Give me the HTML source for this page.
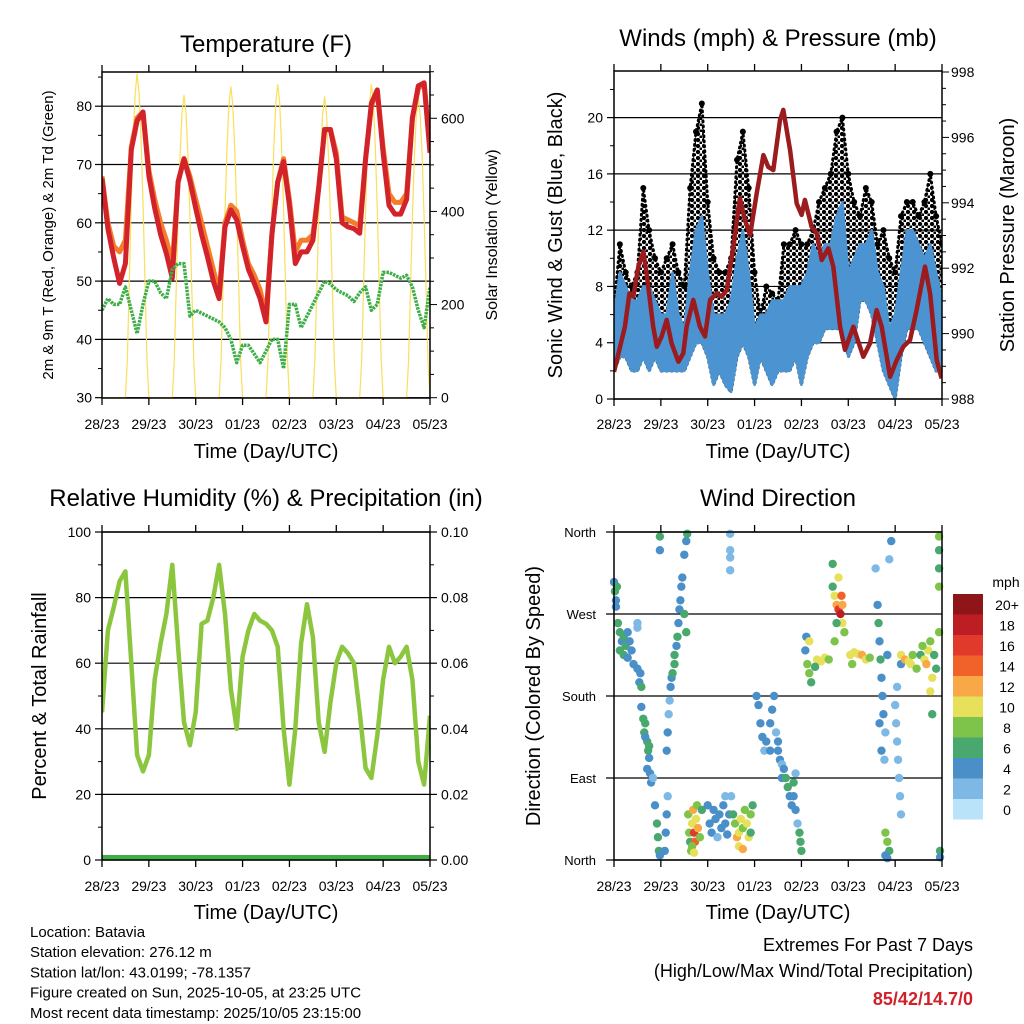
<!DOCTYPE html>
<html><head><meta charset="utf-8">
<style>
html,body{margin:0;padding:0;background:#fff;}
svg{display:block;font-family:"Liberation Sans",sans-serif;}
</style></head>
<body>
<svg id="c" width="1024" height="1024" viewBox="0 0 1024 1024" xmlns="http://www.w3.org/2000/svg">
<defs>
<clipPath id="cp1"><rect x="102" y="72" width="328" height="326"/></clipPath>
<clipPath id="cp2"><rect x="614" y="71" width="328" height="328"/></clipPath>
<clipPath id="cp3"><rect x="102" y="532" width="328" height="328"/></clipPath>
<clipPath id="cp4"><rect x="610" y="528" width="336" height="336"/></clipPath>
<pattern id="dots" width="6" height="6" patternUnits="userSpaceOnUse">
<circle cx="2" cy="2" r="2.2" fill="#000"/><circle cx="5" cy="5" r="1.6" fill="#000"/>
</pattern>
</defs>
<g id="root"></g>
</svg>
<script>
// ---------- data (hours since 28/23 UTC) ----------
const dayLabels = ["28/23","29/23","30/23","01/23","02/23","03/23","04/23","05/23"];
const hours3 = [0,3,6,9,12,15,18,21,24,27,30,33,36,39,42,45,48,51,54,57,60,63,66,69,72,75,78,81,84,87,90,93,96,99,102,105,108,111,114,117,120,123,126,129,132,135,138,141,144,147,150,153,156,159,162,165,168];
const tempRed = [67.6,59,54,49.6,53,72.5,77.5,79,68,62.5,58,54.7,50.5,67,71,67.2,62.5,58,54.2,50,47,59.3,62.2,60.5,56,52,49.6,47,43,58,67,70.5,63,53,55,55,57,66,76,76,71,60,59.3,59,58.2,71,80.5,82.8,72,63,61.5,61.5,64,78,83.5,84,72];
const tempOrange = [68,60,56,55,57,73,78,79,69,64,60,57,53,67,71,68,64,60,56,52,48,60,63,62,57,53,51,48.5,44,58,67,71,64,55,57,57,58,66,76,76,72,61,60.5,60,59.5,71,80,82.5,73,65,63.5,63.5,65,78,83,84,73];
const dewGreen = [45,47,46,46,49,45,41,46,50,50,48,47,52,53,53,44,45,44.5,44,43.5,43,42,40,36,39,39,37.5,36,38,40,40,35,46,46,42,44,46,48,50,49.5,48.5,48,47.5,46.5,48,49,45,46,51.5,51.5,51,50.5,51,49,45,42,49];
const solar = [
0,0,0,0,0,0,0,0,0,0,0,0,0,84,251,418,557,654,696,654,557,418,251,84,
0,0,0,0,0,0,0,0,0,0,0,0,0,78,234,390,520,611,650,611,520,390,234,78,
0,0,0,0,0,0,0,0,0,0,0,0,0,80,240,401,534,628,668,628,534,401,240,80,
0,0,0,0,0,0,0,0,0,0,0,0,0,81,242,404,538,633,673,633,538,404,242,81,
0,0,0,0,0,0,0,0,0,0,0,0,0,78,233,388,518,608,647,608,518,388,233,78,
0,0,0,0,0,0,0,0,0,0,0,0,0,81,242,404,538,633,673,633,538,404,242,81,
0,0,0,0,0,0,0,0,0,0,0,0,0,77,232,387,516,606,645,606,516,387,232,77,
0];
const windHi = [6,9,8,7,7,8,8,7,6,6,9,6,5,9,12,13,9,6,6,6,7,10,12,9,5,6,6,7,7,7,8,8,8,9,11,10,11,11,13,14,9,10,11,11,12,9,8,5,6,9,12,12,11,10,11,9,7];
const windLo = [2,3,3,2,2,3,2,3,2,2,2,2,2,3,4,4,3,1,2,1,0.5,3,4,3,1,3,2,1,2,2,2,3,1,3,4,4,5,5,5,5,3,4,7,7,6,4,2,1,0,3,5,5,5,4,3,2,2];
const gustHi = [6.5,11,9,8,9,15,12,10,9,10,11,9,8,15,19,21,14,10,9,9,10,17,19,15,9,6,8,7.5,7,11,11,12,11,11,12,14,15,16,19,20,16,14,13,15,14,11,12,10,9,13,14,14,13,14,16,13,11];
const presHours = [0,3.1,5.6,7.9,9.9,12.5,15,16.7,20.1,21.9,24.4,27,29.5,33,35.5,37.2,40.6,44,46.6,49.2,52.6,55.1,57.7,61.1,64.5,67.1,69.7,73.1,76.5,79,81.6,85,86.7,90.2,93.6,96.1,97.8,101.2,103.8,106.4,109.8,112.3,115.8,118.3,122.6,127.7,131.1,134.5,137.1,141.4,144.8,148.2,151.6,155,159.3,161.9,165.3,167.8];
const presValues = [988.83,989.6,990.21,991.23,991.13,992.05,992.5,991.84,990.21,989.6,989.91,990.42,989.7,989.14,989.4,990.21,991.03,990.21,989.91,991.03,991.23,991.13,991.33,992.66,994.14,993.47,993.01,994.29,995.46,995.1,995.0,996.53,996.84,995.61,993.98,993.63,994.09,993.27,993.07,992.25,992.61,992.05,990.21,989.5,990.21,989.29,989.7,990.72,990.21,988.68,989.19,989.6,989.8,990.72,992.05,991.23,989.19,988.63];
const rh = [45,70,77,85,88,60,32,27,32,55,66,75,90,65,42,35,45,72,73,80,90,75,52,40,62,70,75,73,72,70,65,40,23,40,66,78,68,42,33,48,60,65,63,60,45,28,25,38,55,65,60,62,65,55,30,23,44];
const precip = [0,0,0,0,0,0,0,0,0,0,0,0,0,0,0,0,0,0,0,0,0,0,0,0,0,0,0,0,0,0,0,0,0,0,0,0,0,0,0,0,0,0,0,0,0,0,0,0,0,0,0,0,0,0,0,0,0];
const wdHours = [0,0.5,1,1.5,1,2,3,4,5,6,7,8,3,5,7,9,10,12,13,14,13.5,12,12,14,15,16,15.5,17,17.5,18,16,17,18.5,19,20,18,21,22,22.5,23,23.5,23.5,23.5,26,26.5,27,27.5,27,27.5,28,28.5,29,29.5,30,31,31,32,32.5,33,33.5,34,34.5,35,36,37,37.5,36,37,38,38.5,39,39.5,40,40.5,41,41.5,42,42.5,43,44,45,40,41,48,49,50,51,52,53,54,55,56,57,58,59,60,57,59.5,59.5,59.5,59.5,61,62,63,64,65,66,67,68,69,70,71,64,66,70,73,74,75,76,77,78,80,81,82,83,84,85,86,84,80,86,87,88,89,90,91,92,93,93,94,92,95,95.5,96,98,99,100,101,98.5,100,104,106,108,110,103,112,113,114,115,116,116.5,117,118,115,114,117,113,112,121,123,125,127,129,131,122,134,135,135.5,136,136.5,137,137.5,138,139,140,141,142,136,137,138.5,139,140,141,139,140,144,144.5,145,145.5,146,146.5,147,145,147,147,149,151,152,153,155,157,159,160,161,162,163,164,165,162,163,158,166.5,166.5,166.5,166.5,166.5,167,167];
const wdDirs = [305,295,285,300,278,260,250,240,245,235,250,240,230,225,222,230,215,210,195,190,205,255,260,168,155,150,140,130,120,112,135,100,95,85,90,125,60,40,25,10,5,355,340,10,30,50,70,120,140,160,175,190,200,205,215,225,235,245,260,275,285,300,310,335,350,358,270,250,50,30,20,10,40,55,30,20,45,60,35,25,55,15,8,60,40,30,55,45,25,50,35,60,40,28,50,70,70,358,340,332,318,50,40,25,30,45,35,55,40,25,50,60,15,12,30,180,170,150,135,120,130,150,165,180,140,120,110,105,130,120,90,100,90,80,70,60,85,95,55,40,70,30,20,10,230,215,205,195,245,240,220,218,222,220,212,300,290,280,275,270,290,260,250,310,260,280,240,325,225,228,226,225,220,222,215,320,280,260,240,220,200,180,160,140,225,330,350,150,120,110,30,20,10,5,2,170,150,130,110,90,70,50,190,215,225,220,218,215,225,210,225,220,215,230,240,200,225,210,185,160,235,355,340,320,300,250,10,3];
const wdSpeeds = [4,6,4,6,4,6,6,5,7,6,5,4,6,6,5,4,4,4,4,6,5,2,2,4,6,6,6,6,6,4,4,4,4,4,2,6,4,6,6,6,4,6,4,4,4,4,2,4,4,2,2,4,4,6,6,6,4,6,4,4,4,4,4,4,4,6,6,6,8,8,6,8,10,12,16,14,10,8,12,8,6,8,10,4,4,4,4,4,2,4,4,4,4,4,4,2,2,2,2,2,2,6,8,12,10,10,8,8,10,10,8,6,10,12,6,4,4,4,4,2,4,4,4,4,2,4,4,2,4,4,4,4,6,6,4,4,6,2,4,2,4,6,6,6,4,8,8,6,4,10,10,10,10,8,6,6,10,12,16,18,14,10,8,10,6,12,8,6,10,10,10,12,10,8,8,2,4,6,4,6,4,4,4,2,4,2,4,4,4,2,8,8,6,4,4,2,2,2,2,2,2,2,2,4,10,12,10,10,8,8,6,10,12,10,8,10,6,6,10,6,8,8,6,6,8,8,6,4];
const cbLabels = ["20+","18","16","14","12","10","8","6","4","2","0"];
const cbColors = ["#8f1519","#bd1e24","#df3a2c","#f0622a","#f8a846","#e7e05a","#7ec34a","#48a86e","#4a8fc8","#7eb9e6","#b9e3f8"];
const spdColors = ["#b9e3f8","#7eb9e6","#4a8fc8","#48a86e","#7ec34a","#e7e05a","#f8a846","#f0622a","#df3a2c","#bd1e24","#8f1519"];

// ---------- helpers ----------
const NS = "http://www.w3.org/2000/svg";
const root = document.getElementById("root");
function el(tag, parent, attrs){ const e=document.createElementNS(NS,tag); for(const k in attrs) e.setAttribute(k,attrs[k]); (parent||root).appendChild(e); return e; }
function txt(parent, x, y, s, size, anchor, extra){ const t=el("text",parent,Object.assign({x:x,y:y,"font-size":size,"text-anchor":anchor||"middle",fill:"#000"},extra||{})); t.textContent=s; return t; }
function line(parent,x1,y1,x2,y2,stroke,w){ return el("line",parent,{x1:x1,y1:y1,x2:x2,y2:y2,stroke:stroke,"stroke-width":w}); }
function pathOf(xs, ys){ let d=""; for(let i=0;i<xs.length;i++) d+=(i?"L":"M")+xs[i].toFixed(1)+","+ys[i].toFixed(1); return d; }

// ---------- scales ----------
const X1 = h => 102 + h*328/168;
const X2 = h => 614 + h*328/168;
const yT = t => 397.7 - (t-30)*5.83;
const yS = s => 397.7 - s*0.4657;
const yW = w => 399 - w*14.07;
const yP = p => 399 - (p-988)*32.7;
const yR = r => 860 - r*3.28;
const yPr = p => 860 - p*3280;
const yD = d => 860 - d*82/90;

function frame(g, L, T, R, B, name){
  const r = el("rect", g, {x:L,y:T,width:R-L,height:B-T,fill:"none",stroke:"#000","stroke-width":1.5});
  
  
}
function xAxis(g, L, T, B, X, labelY, titleY, cx){
  const ga = el("g", g, {});
  
  
  for(let i=0;i<dayLabels.length;i++){
    const x = X(i*24);
    line(ga,x,B,x,B+7,"#000",1.3);
    line(ga,x,T,x,T-7,"#000",1.3);
    const t = txt(ga, x, labelY, dayLabels[i], 14);
    
    
  }
  const tt = txt(ga, cx, titleY, "Time (Day/UTC)", 20);
  
  
}

// ================= PANEL 1: Temperature =================
const p1 = el("g", root, {});


{
  const ti = txt(p1, 266, 52, "Temperature (F)", 24);
  
  
  const ticksL = [30,40,50,60,70,80];
  for(const v of ticksL){
    const y=yT(v);
    const gl = line(p1,102,y,430,y,"#000",1.2);
    
    
    line(p1,95,y,102,y,"#000",1.2);
    const t = txt(p1, 92, y+5, String(v), 14, "end");
    
    
  }
  for(let v=35; v<=85; v+=10) line(p1,98,yT(v),102,yT(v),"#000",1);
  for(let v=0; v<=700; v+=50){ const y=yS(v); line(p1,430,y,v%200===0?437:434,y,"#000",1); }
  for(const v of [0,200,400,600]){
    const t = txt(p1, 441, yS(v)+5, String(v), 14, "start");
    
    
  }
  const data = el("g", p1, {"clip-path":"url(#cp1)"});
  const sx=[], sy=[];
  for(let i=0;i<solar.length;i++){ sx.push(X1(i)); sy.push(yS(solar[i])); }
  const s = el("path", data, {d:pathOf(sx,sy),fill:"none",stroke:"#f9df5a","stroke-width":1.2});
  
  
  const o = el("path", data, {d:pathOf(hours3.map(X1),tempOrange.map(yT)),fill:"none",stroke:"#f47c2a","stroke-width":5,"stroke-linejoin":"round"});
  
  
  const r = el("path", data, {d:pathOf(hours3.map(X1),tempRed.map(yT)),fill:"none",stroke:"#d2222a","stroke-width":5,"stroke-linejoin":"round"});
  
  
  const g = el("path", data, {d:pathOf(hours3.map(X1),dewGreen.map(yT)),fill:"none",stroke:"#3fae49","stroke-width":3.5,"stroke-dasharray":"2.5 1","stroke-linejoin":"round"});
  
  
  frame(p1,102,72,430,398,'temperature-plot-frame');
  xAxis(p1,102,72,398,X1,429,458,266);
  const yl = txt(p1, 0, 0, "2m & 9m T (Red, Orange) & 2m Td (Green)", 15, "middle", {transform:"translate(53,235) rotate(-90)"});
  
  
  const yr = txt(p1, 0, 0, "Solar Insolation (Yellow)", 16, "middle", {transform:"translate(497,235) rotate(-90)"});
  
  
}

// ================= PANEL 2: Winds & Pressure =================
const p2 = el("g", root, {});


{
  const ti = txt(p2, 778, 46, "Winds (mph) & Pressure (mb)", 24);
  
  
  for(const v of [0,4,8,12,16,20]){
    const y=yW(v);
    const gl=line(p2,614,y,942,y,"#000",1.2);
    
    
    line(p2,607,y,614,y,"#000",1.2);
    const t = txt(p2, 603, y+5, String(v), 14, "end");
    
    
  }
  for(let v=2; v<=22; v+=4) line(p2,610,yW(v),614,yW(v),"#000",1);
  for(let v=988; v<=998.01; v+=0.5){ const y=yP(v); line(p2,942,y,(Math.round(v)===v && v%2===0)?949:946,y,"#000",1); }
  for(const v of [988,990,992,994,996,998]){
    const t = txt(p2, 951, yP(v)+5, String(v), 14, "start");
    
    
  }
  const data = el("g", p2, {"clip-path":"url(#cp2)"});
  const xs = hours3.map(X2);
  const gustPath = pathOf(xs, gustHi.map(yW)) + pathOf(xs.slice().reverse(), windLo.map(yW).reverse()).replace("M","L") + "Z";
  const gb = el("path", data, {d:gustPath, fill:"url(#dots)", stroke:"#000","stroke-width":3,"stroke-linejoin":"round","stroke-dasharray":"1 4","stroke-linecap":"round"});
  
  
  for(let i=0;i<hours3.length;i++){
    const c = el("circle", data, {cx:xs[i], cy:yW(gustHi[i]), r:3, fill:"#000"});
    
    
  }
  const windPath = pathOf(xs, windHi.map(yW)) + pathOf(xs.slice().reverse(), windLo.map(yW).reverse()).replace("M","L") + "Z";
  const wb = el("path", data, {d:windPath, fill:"#4b94d1", stroke:"#4b94d1","stroke-width":2.5,"stroke-linejoin":"round"});
  
  
  const pl = el("path", data, {d:pathOf(presHours.map(X2), presValues.map(yP)), fill:"none", stroke:"#9b1b1e","stroke-width":4.5,"stroke-linejoin":"round"});
  
  
  frame(p2,614,71,942,399,'winds-plot-frame');
  xAxis(p2,614,71,399,X2,429,458,778);
  const yl = txt(p2, 0, 0, "Sonic Wind & Gust (Blue, Black)", 20, "middle", {transform:"translate(562,235) rotate(-90)"});
  
  
  const yr = txt(p2, 0, 0, "Station Pressure (Maroon)", 20, "middle", {transform:"translate(1014,235) rotate(-90)"});
  
  
}

// ================= PANEL 3: RH & Precip =================
const p3 = el("g", root, {});


{
  const ti = txt(p3, 266, 506, "Relative Humidity (%) & Precipitation (in)", 24);
  
  
  for(const v of [0,20,40,60,80,100]){
    const y=yR(v);
    const gl=line(p3,102,y,430,y,"#000",1.2);
    
    
    line(p3,95,y,102,y,"#000",1.2);
    line(p3,430,y,437,y,"#000",1.2);
    const t = txt(p3, 91, y+5, String(v), 14, "end");
    
    
    const t2 = txt(p3, 441, y+5, (v/1000).toFixed(2), 14, "start");
    
    
  }
  for(let v=10; v<100; v+=20){ line(p3,98,yR(v),102,yR(v),"#000",1); line(p3,430,yR(v),434,yR(v),"#000",1); }
  const data = el("g", p3, {"clip-path":"url(#cp3)"});
  const xs = hours3.map(X1);
  const pr = el("path", data, {d:pathOf(xs, precip.map(yPr)), fill:"none", stroke:"#3fae49","stroke-width":10});
  
  
  const rl = el("path", data, {d:pathOf(xs, rh.map(yR)), fill:"none", stroke:"#8cc63f","stroke-width":4.5,"stroke-linejoin":"round"});
  
  
  frame(p3,102,532,430,860,'humidity-plot-frame');
  xAxis(p3,102,532,860,X1,891,919,266);
  const yl = txt(p3, 0, 0, "Percent & Total Rainfall", 20, "middle", {transform:"translate(46,696) rotate(-90)"});
  
  
}

// ================= PANEL 4: Wind Direction =================
const p4 = el("g", root, {});


{
  const ti = txt(p4, 778, 506, "Wind Direction", 24);
  
  
  const dirTicks = [0,90,180,270,360];
  const dirNames = ["North","East","South","West","North"];
  for(let i=0;i<dirTicks.length;i++){
    const y=yD(dirTicks[i]);
    const gl=line(p4,606,y,942,y,"#000",1.2);
    
    
    const t = txt(p4, 596, y+5, dirNames[i], 13, "end");
    
    
  }
  const data = el("g", p4, {"clip-path":"url(#cp4)"});
  for(let i=0;i<wdHours.length;i++){
    const bin = Math.min(10, Math.floor(wdSpeeds[i]/2));
    const c = el("circle", data, {cx:X2(wdHours[i]), cy:yD(wdDirs[i]), r:4.2, fill:spdColors[bin]});
    
    
  }
  frame(p4,614,532,942,860,'wind-direction-plot-frame');
  xAxis(p4,614,532,860,X2,891,919,778);
  const yl = txt(p4, 0, 0, "Direction (Colored By Speed)", 20, "middle", {transform:"translate(540,696) rotate(-90)"});
  
  
  // colorbar
  const cb = el("g", p4, {});
  
  
  const ut = txt(cb, 1006, 587, "mph", 14, "middle");
  
  
  for(let i=0;i<cbColors.length;i++){
    const y = 594 + i*20.5;
    const r = el("rect", cb, {x:953,y:y,width:30,height:20.5,fill:cbColors[i]});
    
    
    const t = txt(cb, 1007, y+16, cbLabels[i], 14, "middle");
    
    
  }
}

// ================= Footer text =================
const ft = el("g", root, {});


const info = ["Location: Batavia","Station elevation: 276.12 m","Station lat/lon: 43.0199; -78.1357","Figure created on Sun, 2025-10-05, at 23:25 UTC","Most recent data timestamp: 2025/10/05 23:15:00"];
for(let i=0;i<info.length;i++){
  const t = txt(ft, 30, 937 + i*20.2, info[i], 15, "start");
  
  
}
const ex = el("g", root, {});


const e1 = txt(ex, 973, 951, "Extremes For Past 7 Days", 18, "end");


const e2 = txt(ex, 973, 977, "(High/Low/Max Wind/Total Precipitation)", 18, "end");


const e3 = txt(ex, 973, 1005, "85/42/14.7/0", 18, "end", {fill:"#d0202a","font-weight":"bold"});


</script>
</body></html>
